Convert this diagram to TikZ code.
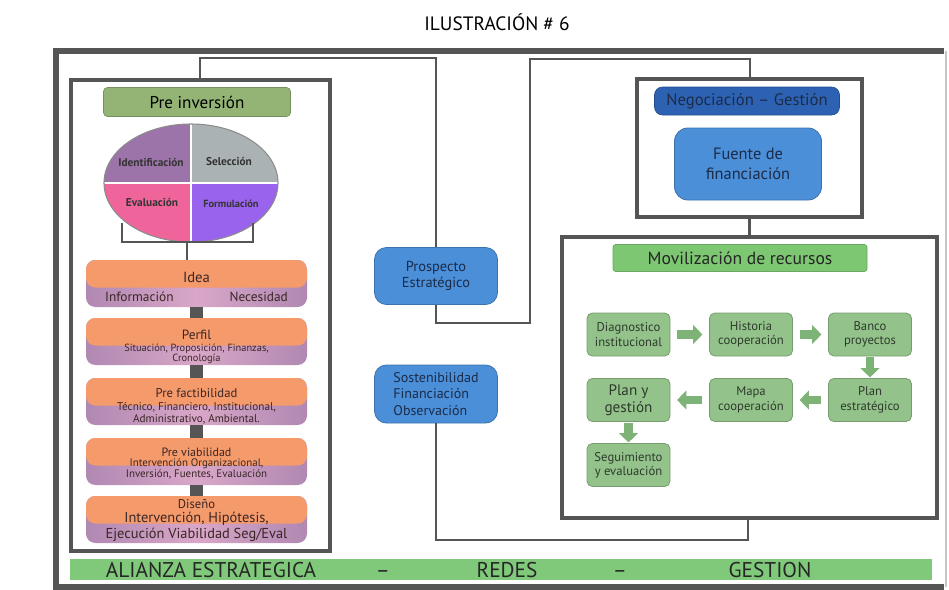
\documentclass[tikz,border=0pt]{standalone}
\usepackage{fontspec}
\setmainfont{PT Sans}
\usepackage{tikz}
\usetikzlibrary{math}
\usetikzlibrary{arrows.meta}

\definecolor{framegray}{HTML}{555555}
\definecolor{preinvgreen}{HTML}{93B474}
\definecolor{qidentif}{HTML}{9C74A9}
\definecolor{qselecc}{HTML}{AAB2B3}
\definecolor{qevalua}{HTML}{F0649C}
\definecolor{qformul}{HTML}{9A63EE}
\definecolor{stageorange}{HTML}{F59A6A}
\definecolor{stagepink}{HTML}{D9A7C8}
\definecolor{stageedge}{HTML}{B088B2}
\definecolor{stagetext}{HTML}{3A2626}
\definecolor{boxblue}{HTML}{4A8FD8}
\definecolor{darkblue}{HTML}{2D62B3}
\definecolor{bluetext}{HTML}{1C2B48}
\definecolor{labelgreen}{HTML}{7DC672}
\definecolor{stepgreen}{HTML}{93C38B}
\definecolor{arrowgreen}{HTML}{7DB376}
\definecolor{steptext}{HTML}{2E3A2C}
\definecolor{bargreen}{HTML}{80C97A}

\tikzset{
  pxsize/.style 2 args={minimum width=#1*0.75pt, minimum height=#2*0.75pt},
  frame/.style={draw=framegray, line width=3pt, inner sep=0pt, outer sep=0pt},
  link/.style={draw=framegray, line width=1.6pt},
  stem/.style={draw=framegray, line width=10pt},
  stage/.style={rounded corners=7pt, pxsize={221}{47}, inner sep=0pt,
    left color=stageedge, right color=stageedge, middle color=stagepink,
    path picture={\fill[stageorange] ([yshift=-3pt]path picture bounding box.west)
      rectangle (path picture bounding box.north east);}},
  stagetitle/.style={inner sep=0pt, text=stagetext, font=\fontsize{9.5}{10}\selectfont},
  stagesub/.style={inner sep=0pt, text=stagetext, align=center},
  bluebox/.style={rounded corners=9pt, fill=boxblue, draw=boxblue!80!black, line width=0.6pt,
    text=bluetext, align=center, font=\fontsize{10.8}{12.5}\selectfont},
  stepbox/.style={rounded corners=4pt, fill=stepgreen, draw=stepgreen!80!black, line width=0.6pt,
    pxsize={83}{43}, inner sep=1pt, align=center, text=steptext,
    font=\fontsize{9.5}{10.8}\selectfont},
  steparrow/.style={draw=arrowgreen, line width=6.5pt,
    -{Triangle[width=14pt,length=7pt]}},
  quadlabel/.style={font=\bfseries\fontsize{8.5}{9}\selectfont, text=black!80},
  barlabel/.style={font=\fontsize{16}{17}\selectfont, text=black!85, anchor=base}
}

\begin{document}
\begin{tikzpicture}[x=0.75pt, y=-0.75pt]
\useasboundingbox (0,0) rectangle (949,589);

% Titulo
\node[font=\fontsize{14.5}{16}\selectfont] (title) at (497,22) {ILUSTRACIÓN \# 6};

% Marco exterior
\draw[framegray, line width=4pt] (944,51) -- (56,51) -- (56,587) -- (944,587);
\draw[gray!45, line width=1pt] (946,51) -- (946,587);

% Pre inversion
\tikzmath{ \sx = 196.5; }
\node[frame, pxsize={259}{471}] (preinvframe) at (200.5,315.5) {};
\node[fill=preinvgreen, draw=preinvgreen!80!black, line width=0.5pt, rounded corners=3pt,
  pxsize={187}{29}, font=\fontsize{12.8}{14}\selectfont] (preinv) at (197,102) {Pre inversión};

\coordinate (ell) at (191,183);
\begin{scope}
\clip (ell) ellipse [x radius=87, y radius=59];
\fill[qidentif] (ell) rectangle ++(-90,-62);
\fill[qselecc] (ell) rectangle ++(90,-62);
\fill[qevalua] (ell) rectangle ++(-90,62);
\fill[qformul] (ell) rectangle ++(90,62);
\draw[white, line width=1.5pt] (ell) ++(0,-60) -- ++(0,120);
\draw[white, line width=1.5pt] (ell) ++(-88,0) -- ++(176,0);
\end{scope}
\draw[black!45, line width=0.8pt] (ell) ellipse [x radius=87, y radius=59];
\node[quadlabel] (identif) at (151,162) {Identificación};
\node[quadlabel] (selecc) at (229,161) {Selección};
\node[quadlabel] (evalua) at (152,202) {Evaluación};
\node[quadlabel, font=\bfseries\fontsize{7.8}{9}\selectfont] (formul) at (231,204) {Formulación};

\draw[link, line width=2.2pt] (122,223) |- (253,242) -- (253,223);
\coordinate (brkt) at (187,242);

\node[stage] (idea) at (\sx,283.5) {};
\node[stage] (perfil) at (\sx,341.5) {};
\node[stage] (prefact) at (\sx,401.5) {};
\node[stage] (previab) at (\sx,461.5) {};
\node[stage] (diseno) at (\sx,519.5) {};

\node[stagetitle, font=\fontsize{11}{12}\selectfont] (ideat) at (\sx,277) {Idea};
\node[stagesub, font=\fontsize{10}{11}\selectfont] (ideas) at (\sx,297)
  {Información\hspace{4.2em}Necesidad};
\node[stagetitle, font=\fontsize{10}{11}\selectfont] (perfilt) at (\sx,335) {Perfil};
\node[stagesub, font=\fontsize{7.8}{7.5}\selectfont] (perfils) at (\sx,353.5)
  {Situación, Proposición, Finanzas,\\Cronología};
\node[stagetitle] (prefactt) at (\sx,393) {Pre factibilidad};
\node[stagesub, font=\fontsize{8.4}{9}\selectfont] (prefacts) at (\sx,413.5)
  {Técnico, Financiero, Institucional,\\Administrativo, Ambiental.};
\node[stagetitle, font=\fontsize{9}{10}\selectfont] (previabt) at (\sx,452) {Pre viabilidad};
\node[stagesub, font=\fontsize{8.2}{8.3}\selectfont] (previabs) at (\sx,469)
  {Intervención Organizacional,\\Inversión, Fuentes, Evaluación};
\node[stagetitle] (disenot) at (\sx,504) {Diseño};
\node[stagesub, font=\fontsize{10.8}{12}\selectfont] (disenos) at (\sx,526.5)
  {Intervención, Hipótesis,\\Ejecución Viabilidad Seg/Eval};

\draw[link, line width=2.2pt] (brkt) -- (brkt |- idea.north);
\draw[stem] (idea.south) -- (perfil.north);
\draw[stem] (perfil.south) -- (prefact.north);
\draw[stem] (prefact.south) -- (previab.north);
\draw[stem] (previab.south) -- (diseno.north);

% Columna central
\node[bluebox, pxsize={123}{57}] (prosp) at (436,276) {Prospecto\\Estratégico};
\node[bluebox, pxsize={123}{58}, align=left, font=\fontsize{10.5}{12.5}\selectfont] (sost) at (436,394)
  {Sostenibilidad\\Financiación\\Observación};

% Negociacion - Gestion
\node[frame, pxsize={225}{138}] (negframe) at (749.5,148) {};
\node[fill=darkblue, draw=darkblue!80!black, line width=0.5pt, rounded corners=6pt,
  pxsize={185}{28}, text=bluetext, font=\fontsize{12.5}{14}\selectfont] (neg) at (747,101)
  {Negociación – Gestión};
\node[bluebox, rounded corners=10pt, pxsize={147}{72}, font=\fontsize{12.3}{15}\selectfont]
  (fuente) at (748,164) {Fuente de\\financiación};

% Movilizacion de recursos
\node[frame, line width=2.4pt, pxsize={375}{281}] (movframe) at (749.5,377.5) {};
\node[fill=labelgreen, draw=labelgreen!85!black, line width=0.5pt, rounded corners=2pt,
  pxsize={254}{27}, font=\fontsize{13.2}{14}\selectfont, text=black!85] (movil) at (740,258)
  {Movilización de recursos};

\node[stepbox] (diag) at (628.5,334.5) {Diagnostico\\institucional};
\node[stepbox] (hist) at (751,334.5) {Historia\\cooperación};
\node[stepbox] (banco) at (870,334.5) {Banco\\proyectos};
\node[stepbox, font=\fontsize{11.4}{13}\selectfont] (planges) at (628.5,400) {Plan y\\gestión};
\node[stepbox] (mapa) at (751,400) {Mapa\\cooperación};
\node[stepbox] (planest) at (870,400) {Plan\\estratégico};
\node[stepbox] (seguim) at (628.5,465) {Seguimiento\\y evaluación};

\draw[steparrow, shorten <=5pt, shorten >=5pt] (diag) -- (hist);
\draw[steparrow, shorten <=5pt, shorten >=5pt] (hist) -- (banco);
\draw[steparrow, shorten <=0.5pt, shorten >=0.5pt] (banco) -- (planest);
\draw[steparrow, shorten <=5pt, shorten >=5pt] (planest) -- (mapa);
\draw[steparrow, shorten <=5pt, shorten >=5pt] (mapa) -- (planges);
\draw[steparrow, shorten <=0.5pt, shorten >=0.5pt] (planges) -- (seguim);

% Conectores
\coordinate (upleft) at (200,58);
\draw[link] (prosp.north) |- (upleft) -- (upleft |- preinvframe.north);

\coordinate (prospturn) at (530,323);
\coordinate (midtop) at (530,59);
\coordinate (negtop) at (750,59);
\draw[link] (prosp.south) |- (prospturn) -- (midtop) -- (negtop) -- (negtop |- negframe.north);

\draw[link, line width=2.4pt] (negframe.south) -- (movframe.north);

\coordinate (sostturn) at (748,540);
\draw[link, line width=2.2pt] (sost.south) |- (sostturn) -- (sostturn |- movframe.south);

% Barra inferior
\node[fill=bargreen, inner sep=0pt, pxsize={862}{21}] (bar) at (501,569.5) {};
\node[barlabel] (alianza) at (211,577) {ALIANZA ESTRATEGICA};
\node[barlabel] (guion1) at (383,577) {–};
\node[barlabel] (redes) at (507,577) {REDES};
\node[barlabel] (guion2) at (620,577) {–};
\node[barlabel] (gestion) at (770,577) {GESTION};

\end{tikzpicture}
\end{document}
